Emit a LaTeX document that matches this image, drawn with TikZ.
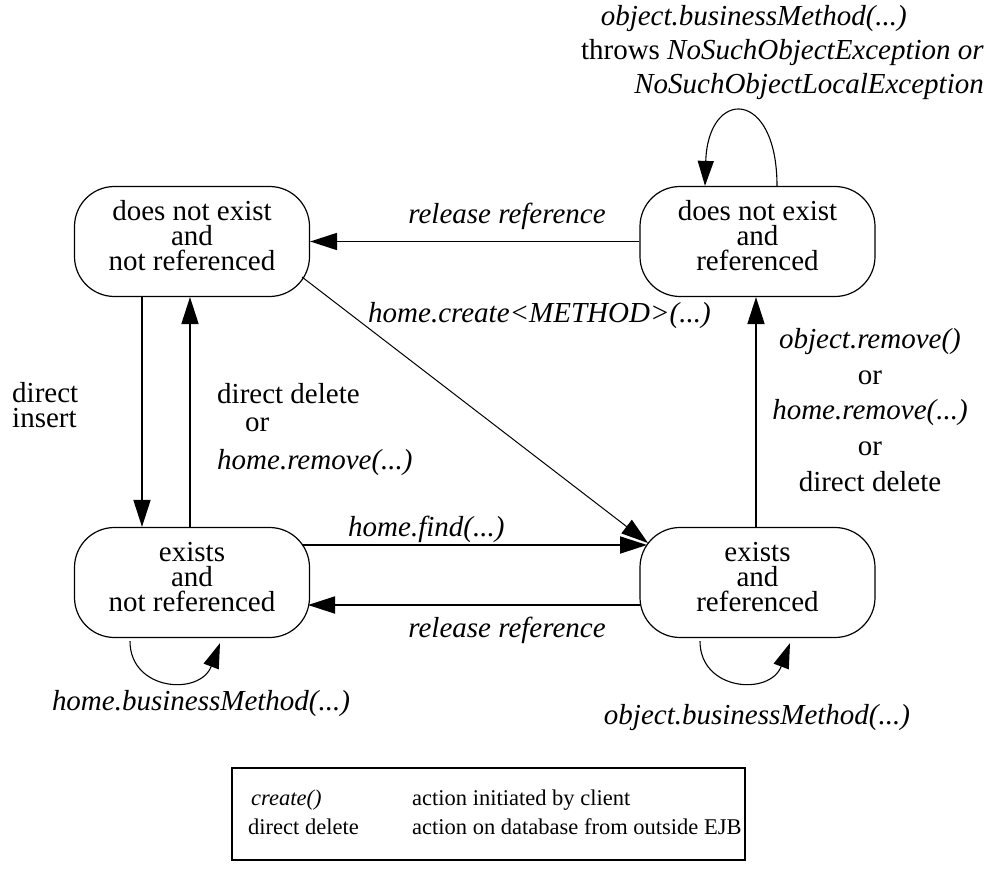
\documentclass[tikz,border=0pt]{standalone}
\usepackage{fontspec}
\setmainfont{Liberation Serif}
\usetikzlibrary{arrows.meta}
\begin{document}
\begin{tikzpicture}[x=1pt,y=-1pt,
  state/.style={draw, line width=1.2pt, rounded corners=40pt, minimum width=235pt, minimum height=110pt, align=center, inner sep=0pt, font=\fontsize{29}{25}\selectfont},
  lbl/.style={inner sep=0pt, font=\fontsize{29}{34}\selectfont},
  leg/.style={inner sep=0pt, font=\fontsize{22.5}{28}\selectfont, anchor=base west},
  tip/.style={-{Triangle[length=27pt,width=17pt]}},
  bigarrow/.style={tip, line width=1.8pt},
  thinarrow/.style={tip, line width=1pt},
  looparrow/.style={-{Triangle[length=25pt,width=16pt]}, line width=1.1pt},
]
\useasboundingbox (0,0) rectangle (1005,880);

% states
\newcommand\lowstrut{\rule[-12pt]{0pt}{0pt}}
\node[state] (A) at (192,241.5) {does not exist\\and\\not referenced\lowstrut};
\node[state] (B) at (757.5,241.5) {does not exist\\and\\referenced\lowstrut};
\node[state] (C) at (192,582.5) {exists\\and\\not referenced\lowstrut};
\node[state] (D) at (757.5,582.5) {exists\\and\\referenced\lowstrut};

% connectors
\draw[bigarrow] (B.west) -- (A.east);
\draw[bigarrow] ([xshift=-50pt]A.south) -- ([xshift=-50pt]C.north);
\draw[bigarrow] ([xshift=-2pt]C.north) -- ([xshift=-2pt]A.south);
\draw[thinarrow] ([shift={(110,35.5)}]A.center) -- ([shift={(-109.5,-39.5)}]D.center);
\draw[bigarrow] ([shift={(110,-37.5)}]C.center) -- ([shift={(-110.5,-37.5)}]D.center);
\draw[bigarrow] ([shift={(-117,22.5)}]D.center) -- ([shift={(116,22.5)}]C.center);
\draw[bigarrow] ([xshift=-1.5pt]D.north) -- ([xshift=-1.5pt]B.south);

% self loops
\draw[looparrow] ([xshift=19.5pt]B.north) .. controls +(0,-98) and +(3,-98) .. ([xshift=-52.5pt]B.north);
\draw[looparrow] ([shift={(-62,3)}]C.south) .. controls +(0,50) and +(-20,53) .. ([shift={(28,5)}]C.south);
\draw[looparrow] ([shift={(-57.5,3)}]D.south) .. controls +(0,50) and +(-20,53) .. ([shift={(32.5,5)}]D.south);

% labels
\node[lbl, anchor=north east, align=right] (ltop) at (984,5)
  {\textit{object.businessMethod(...)}\hspace*{77pt}\\
   throws \textit{NoSuchObjectException or}\\
   \textit{NoSuchObjectLocalException}};
\node[lbl, anchor=base, font=\fontsize{29}{34}\selectfont\itshape] (lrel1) at (507,223) {release reference};
\node[lbl, anchor=base west, font=\fontsize{29}{34}\selectfont\itshape] (lcreate) at (368,322) {home.create<METHOD>(...)};
\node[lbl, anchor=north west, align=left, font=\fontsize{29}{25}\selectfont] (lins) at (12,382) {direct\\insert};
\node[lbl, anchor=north west, align=left, font=\fontsize{29}{28}\selectfont] (ldel) at (217,383)
  {direct delete\\\hspace*{28pt}or\\[10pt]\textit{home.remove(...)}};
\node[lbl, anchor=north, align=center, font=\fontsize{29}{35.7}\selectfont] (lrem) at (870,328)
  {\textit{object.remove()}\\or\\\textit{home.remove(...)}\\or\\direct delete};
\node[lbl, anchor=base west, font=\fontsize{29}{34}\selectfont\itshape] (lfind) at (348,536) {home.find(...)};
\node[lbl, anchor=base, font=\fontsize{29}{34}\selectfont\itshape] (lrel2) at (507,637) {release reference};
\node[lbl, anchor=base, font=\fontsize{29}{34}\selectfont\itshape] (lhbm) at (201,710) {home.businessMethod(...)};
\node[lbl, anchor=base, font=\fontsize{29}{34}\selectfont\itshape] (lobm) at (757,724) {object.businessMethod(...)};

% legend
\node[draw, line width=1.8pt, minimum width=513pt, minimum height=92pt, inner sep=0pt] (legend) at (488.5,814) {};
\node[leg, font=\fontsize{22.5}{28}\selectfont\itshape] (k1) at (251,805) {create()};
\node[leg] (v1) at (412,805) {action initiated by client};
\node[leg] (k2) at (248,834) {direct delete};
\node[leg] (v2) at (412,834) {action on database from outside EJB};
\end{tikzpicture}
\end{document}
